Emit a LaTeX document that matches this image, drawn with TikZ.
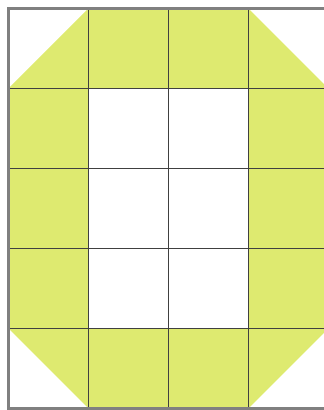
\documentclass[tikz,border=0pt]{standalone}
\usepackage{tikz}
\definecolor{limefill}{RGB}{222,234,112}
\begin{document}
\begin{tikzpicture}[x=1cm,y=1cm]
                \useasboundingbox (-0.106,-0.019) rectangle (3.944,5.106);
                % Yellow ring with cut corners
                \fill[limefill, even odd rule] (0,1) -- (1,0) -- (3,0) -- (4,1) -- (4,4) -- (3,5) -- (1,5) -- (0,4) -- cycle
                    (1,1) rectangle (3,4);
                
                % Grid lines
                \foreach \x in {1,2,3}
                    \draw[black!75, line width=0.6pt] (\x,0) -- (\x,5);
                \foreach \y in {1,2,3,4}
                    \draw[black!75, line width=0.6pt] (0,\y) -- (4,\y);
                \draw[black!50, line width=0.8pt] (4,0) -- (0,0) -- (0,5) -- (4,5);
            \end{tikzpicture}
\end{document}
